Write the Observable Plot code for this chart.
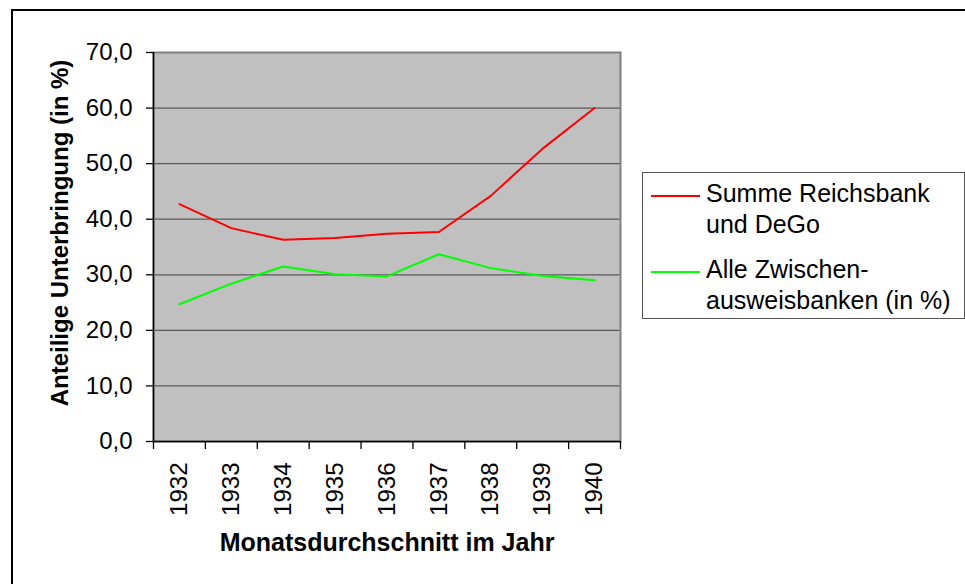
<!DOCTYPE html>
<html>
<head>
<meta charset="utf-8">
<script src="https://cdn.jsdelivr.net/npm/d3@7"></script>
<script src="https://cdn.jsdelivr.net/npm/@observablehq/plot@0.6"></script>
<style>
  html, body { margin: 0; padding: 0; background: #fff; overflow: hidden; }
  #wrap { position: relative; width: 965px; height: 584px; font-family: "Liberation Sans", Arial, sans-serif; }
  #border { position: absolute; left: 11px; top: 9px; width: 2000px; height: 2000px; border-top: 2px solid #000; border-left: 2px solid #000; pointer-events: none; }
  #legend { position: absolute; left: 642px; top: 172px; width: 323px; height: 147px; border: 1px solid #555; background: #fff; box-sizing: border-box; }
  .entry { position: absolute; left: 63px; font-size: 25px; line-height: 31px; color: #000; white-space: nowrap; }
  .swatch { position: absolute; left: 8px; width: 49px; height: 2px; }
</style>
</head>
<body>
<div id="wrap">
  <div id="chart"></div>
  <div id="border"></div>
  <div id="legend"></div>
</div>
<script>
const years = ["1932", "1933", "1934", "1935", "1936", "1937", "1938", "1939", "1940"];
const reichsbankDeGo = [42.7, 38.4, 36.3, 36.6, 37.4, 37.7, 44.2, 52.7, 60.0];
const zwischenausweisbanken = [24.7, 28.4, 31.5, 30.1, 29.7, 33.7, 31.2, 29.8, 29.0];
const seriesNames = [["Summe Reichsbank", "und DeGo"], ["Alle Zwischen-", "ausweisbanken (in %)"]];
const seriesColors = ["#ff0000", "#00ff00"];
const yTicks = [0, 10, 20, 30, 40, 50, 60, 70];
const yTitle = "Anteilige Unterbringung (in %)";
const xTitle = "Monatsdurchschnitt im Jahr";

const seriesValues = [reichsbankDeGo, zwischenausweisbanken];
const rows = seriesValues.flatMap((vals, s) =>
  vals.map((v, i) => ({ series: s, i, year: years[i], value: v }))
);

const chart = Plot.plot({
  width: 965,
  height: 584,
  marginLeft: 153,
  marginRight: 345,
  marginTop: 52,
  marginBottom: 143,
  style: { fontFamily: "'Liberation Sans', Arial, sans-serif", fontSize: "24px", color: "#000", background: "transparent", overflow: "visible" },
  x: { type: "linear", domain: [-0.5, years.length - 0.5] },
  y: { domain: [0, 70] },
  marks: [
    Plot.frame({ fill: "#c0c0c0" }),
    Plot.ruleY(yTicks.filter(d => d > 0 && d < 70), { stroke: "#5a5a5a", strokeWidth: 1.3 }),
    Plot.frame({ stroke: "#808080", strokeWidth: 2 }),
    Plot.axisY(yTicks, { tickSize: 7, tickPadding: 14, tickFormat: d => d.toFixed(1).replace(".", ","), label: null, stroke: "#000", strokeWidth: 1.3 }),
    Plot.axisX(d3.range(-0.5, years.length, 1), { tickSize: 8, tickFormat: () => "", label: null, stroke: "#000", strokeWidth: 1.3 }),
    Plot.axisX(years.map((_, i) => i), { tickSize: 0, tickPadding: 21, tickRotate: -90, tickFormat: i => years[i], label: null }),
    Plot.ruleX([-0.5], { stroke: "#000", strokeWidth: 1.5 }),
    Plot.ruleY([0], { stroke: "#000", strokeWidth: 1.5 }),
    Plot.line(rows, { x: "i", y: "value", z: "series", stroke: d => seriesColors[d.series], strokeWidth: 2 }),
    Plot.text([yTitle], { text: d => d, frameAnchor: "left", textAnchor: "middle", lineAnchor: "middle", rotate: -90, dx: -93, dy: -14, fontWeight: "bold", fontSize: 24, fill: "#000" }),
    Plot.text([xTitle], { text: d => d, frameAnchor: "bottom", textAnchor: "middle", lineAnchor: "middle", dy: 101, fontWeight: "bold", fontSize: 25, fill: "#000" })
  ]
});
document.getElementById("chart").appendChild(chart);

const legend = document.getElementById("legend");
const entryTops = [5, 81];
seriesNames.forEach((lines, s) => {
  const sw = document.createElement("div");
  sw.className = "swatch";
  sw.style.top = (entryTops[s] + 17) + "px";
  sw.style.background = seriesColors[s];
  legend.appendChild(sw);
  const t = document.createElement("div");
  t.className = "entry";
  t.style.top = entryTops[s] + "px";
  t.innerHTML = lines.join("<br>");
  legend.appendChild(t);
});
</script>
</body>
</html>
